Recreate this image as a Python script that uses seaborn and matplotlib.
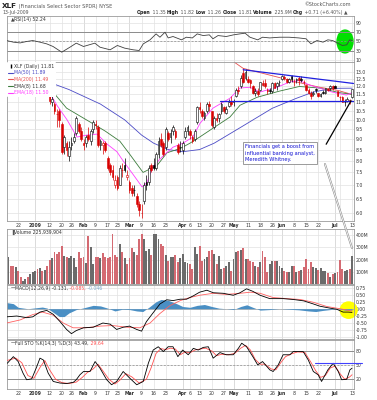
import numpy as np
import pandas as pd
import seaborn as sns
import matplotlib.pyplot as plt
from matplotlib.lines import Line2D
from matplotlib.patches import Ellipse, ConnectionPatch

# ----------------------
# Data: XLF daily, 16-Dec-2008 .. 13-Jul-2009
# ----------------------
holidays = ['2008-12-25', '2009-01-01', '2009-01-19', '2009-02-16',
            '2009-04-10', '2009-05-25', '2009-07-03']
days = pd.bdate_range('2008-12-16', '2009-07-13')
days = days[~days.isin(pd.to_datetime(holidays))]

open_px = [
    12.2, 12.8, 12.5, 12.2, 12.2, 12.0, 11.8, 11.8, 11.9, 11.7, 12.1,
    12.6, 13.0, 12.9, 12.8, 12.2, 12.4, 11.6, 11.0, 10.9, 10.3, 10.5, 9.8, 8.6, 8.8, 8.2, 8.7, 8.9, 9.3, 9.8, 9.4,
    8.8, 8.8, 9.2, 8.9, 9.5, 9.8, 9.6, 8.7, 8.7, 8.8, 8.1, 7.8, 7.6, 7.0, 7.3, 7.0, 7.6, 7.8, 7.3,
    7.1, 6.9, 6.8, 6.6, 6.3, 6.0, 6.4, 7.1, 7.1, 7.8, 7.8, 7.7, 8.3, 9.0, 8.8, 8.6, 9.3, 9.1, 9.4, 9.4, 8.7, 8.6,
    8.5, 9.1, 9.4, 9.4, 9.1, 9.0, 9.9, 10.7, 10.5, 10.1, 10.5, 10.9, 10.5, 9.6, 10.1, 10.1, 10.5, 10.7, 10.4, 10.8, 11.1,
    11.0, 11.4, 11.8, 12.0, 12.9, 12.6, 12.5, 12.4, 12.0, 11.6, 11.7, 11.8, 12.2, 12.2, 11.8, 11.8, 11.7, 12.2, 12.0, 12.3,
    12.5, 12.6, 12.5, 12.3, 12.7, 12.3, 12.4, 12.6, 12.5, 12.3, 12.1, 11.8, 11.6, 11.5, 11.8, 11.6, 11.4, 11.6, 11.6, 11.8, 11.9, 12.0,
    12.0, 11.7, 11.3, 11.3, 11.0, 11.1, 11.1, 11.35]
high_px = [
    13.0, 12.9, 12.7, 12.6, 12.3, 12.1, 11.9, 12.0, 11.9, 12.2, 12.6,
    13.2, 13.1, 13.3, 12.9, 12.5, 12.5, 11.7, 11.5, 11.0, 10.6, 10.6, 9.9, 9.2, 8.9, 8.9, 9.1, 9.3, 10.2, 9.9, 9.6,
    9.0, 9.2, 9.6, 9.5, 10.0, 10.0, 9.7, 9.0, 8.9, 8.9, 8.2, 7.9, 7.8, 7.4, 7.4, 7.8, 7.9, 8.1, 7.6,
    7.2, 7.0, 7.0, 6.7, 6.4, 6.3, 7.1, 7.4, 7.8, 7.9, 8.1, 8.4, 9.1, 9.3, 8.9, 9.6, 9.4, 9.5, 9.7, 9.5, 8.8, 8.9,
    8.9, 9.6, 9.7, 9.5, 9.2, 9.5, 10.8, 11.0, 10.6, 10.5, 11.0, 11.1, 10.5, 10.2, 10.4, 10.4, 11.0, 10.8, 10.8, 11.2, 11.4,
    11.2, 11.9, 12.0, 12.8, 13.3, 13.2, 12.7, 12.5, 12.1, 11.9, 11.9, 12.3, 12.4, 12.5, 11.9, 11.9, 12.3, 12.3, 12.3, 12.4,
    12.8, 12.8, 12.6, 12.6, 12.8, 12.5, 12.6, 12.7, 12.7, 12.4, 12.1, 11.9, 11.7, 11.7, 11.9, 11.6, 11.6, 11.8, 11.9, 11.9, 12.1, 12.1,
    12.1, 11.7, 11.4, 11.4, 11.2, 11.3, 11.2, 11.82]
low_px = [
    12.1, 12.3, 12.0, 12.0, 11.7, 11.6, 11.6, 11.6, 11.4, 11.6, 12.0,
    12.5, 12.6, 12.7, 12.2, 11.9, 11.6, 10.9, 10.8, 10.3, 9.6, 9.6, 8.3, 8.3, 8.2, 8.0, 8.5, 8.8, 9.2, 9.3, 8.9,
    8.5, 8.6, 8.9, 8.7, 9.3, 9.5, 8.6, 8.5, 8.3, 8.4, 7.6, 7.4, 7.2, 6.9, 6.8, 7.0, 7.3, 7.5, 7.2,
    6.7, 6.6, 6.6, 6.2, 5.9, 5.85, 6.3, 6.8, 7.0, 7.5, 7.6, 7.6, 8.1, 8.6, 8.2, 8.5, 8.9, 8.8, 9.2, 9.0, 8.3, 8.4,
    8.3, 9.0, 9.2, 9.0, 8.8, 8.9, 9.8, 10.4, 10.1, 10.0, 10.4, 10.5, 9.6, 9.5, 9.9, 9.9, 10.3, 10.4, 10.3, 10.7, 10.8,
    10.8, 11.3, 11.5, 11.9, 12.2, 12.4, 12.2, 11.9, 11.5, 11.4, 11.4, 11.7, 12.0, 11.9, 11.5, 11.6, 11.6, 11.9, 11.8, 12.0,
    12.4, 12.4, 12.2, 12.2, 12.3, 12.0, 12.2, 12.1, 12.3, 12.1, 11.7, 11.5, 11.2, 11.4, 11.6, 11.3, 11.3, 11.5, 11.5, 11.7, 11.8, 11.8,
    11.9, 11.4, 11.1, 11.0, 10.8, 11.0, 10.9, 11.26]
close_px = [
    12.9, 12.5, 12.1, 12.3, 11.9, 11.7, 11.8, 11.9, 11.6, 12.1, 12.5,
    13.1, 12.8, 13.0, 12.3, 12.4, 11.7, 11.1, 11.2, 10.5, 10.3, 10.0, 8.4, 9.1, 8.5, 8.6, 8.8, 9.1, 10.1, 9.4, 9.0,
    8.7, 9.1, 9.0, 9.4, 9.9, 9.7, 8.7, 8.9, 8.8, 8.5, 7.7, 7.5, 7.3, 7.2, 6.9, 7.7, 7.6, 7.6, 7.4,
    6.8, 6.7, 6.8, 6.3, 6.1, 6.0, 7.0, 7.0, 7.7, 7.6, 7.7, 8.3, 8.9, 8.7, 8.3, 9.5, 9.0, 9.3, 9.6, 9.1, 8.4, 8.6,
    8.8, 9.4, 9.6, 9.2, 8.9, 9.4, 10.7, 10.6, 10.2, 10.4, 10.9, 10.8, 9.7, 10.1, 10.0, 10.3, 10.9, 10.5, 10.6, 11.0, 10.9,
    11.1, 11.8, 11.7, 12.6, 12.3, 13.0, 12.3, 12.2, 11.6, 11.7, 11.5, 12.3, 12.1, 12.0, 11.7, 11.7, 12.2, 11.9, 12.2, 12.3,
    12.7, 12.6, 12.3, 12.5, 12.5, 12.3, 12.5, 12.4, 12.4, 12.3, 11.8, 11.6, 11.4, 11.6, 11.8, 11.4, 11.5, 11.6, 11.9, 11.8, 12.0, 11.9,
    11.9, 11.4, 11.3, 11.0, 11.0, 11.2, 11.1, 11.81]
volume_m = [
    225, 150, 150, 138, 110, 56, 28, 45, 56, 86,
    97, 110, 127, 135, 110, 115, 150, 200, 210, 260,
    245, 260, 315, 233, 225, 210, 233, 210, 138, 260,
    210, 220, 175, 397, 300, 165, 220, 225, 210, 255,
    220, 215, 220, 413, 240, 220, 330, 260, 210, 165,
    210, 295, 260, 240, 373, 413, 373, 270, 285, 240,
    413, 413, 373, 330, 315, 240, 190, 220, 225, 240,
    180, 210,
    247, 179, 170, 165, 124, 307, 247, 315, 186, 207,
    218, 268, 282, 247, 165, 233, 124, 132, 151, 179,
    110, 206, 260, 268, 282, 296, 206, 206, 192, 179,
    151, 137, 179, 268, 219, 96, 165, 186, 186, 192,
    151, 132, 110, 96, 96, 151, 151, 96, 110, 115,
    137, 206, 124, 179, 137, 132, 115, 132, 110, 110,
    88, 60, 82, 88, 96, 200, 124, 110, 115, 120, 226]

# overlays at (day index, value)
ma50_day = [-0.8, 7, 14, 25, 38, 48, 55, 60, 66, 72, 79, 85, 96, 109, 119, 126, 134, 142]
ma50_val = [13.5, 12.95, 12.45, 11.8, 10.9, 10.0, 9.2, 8.8, 8.5, 8.4, 8.5, 8.8, 9.6, 10.65, 11.25, 11.64, 11.88, 11.89]
ma200_day = [-0.8, 40, 70, 88, 93, 97, 105, 112, 119, 128, 136, 142]
ma200_val = [19.5, 17.0, 15.0, 14.1, 13.75, 13.25, 12.9, 12.6, 12.3, 11.97, 11.75, 11.49]
ema_slow_day = [-0.8, 8, 17, 24, 34, 40, 46, 50, 55.6, 61.4, 65.5, 71, 75, 79, 84.5, 91.5, 95.7, 102.7, 112, 120.2, 128.5, 136.8, 142]
ema_slow_val = [12.5, 12.3, 11.9, 10.66, 9.86, 9.4, 8.9, 8.3, 7.5, 7.79, 8.35, 8.55, 8.8, 9.1, 9.55, 10.15, 10.83, 11.31, 11.7, 12.0, 11.9, 11.6, 11.5]
ema_fast_day = [-0.8, 8, 15.9, 20, 24.2, 28.3, 32.4, 36.6, 40.7, 44.8, 47.3, 51.4, 55.2, 57.2, 59.7, 63.8, 68, 72.1, 76.2, 79.1,
                84.5, 91.5, 95.7, 99.8, 103.9, 110.9, 116.3, 120.2, 124.4, 128.5, 133.8, 139.6, 142]
ema_fast_val = [12.4, 12.1, 11.9, 10.83, 10.0, 9.1, 9.2, 9.25, 8.76, 8.4, 8.0, 7.43, 6.93, 7.09, 7.74, 8.2, 8.61, 8.8, 9.1, 9.8,
                10.66, 11.25, 11.9, 11.95, 11.64, 11.95, 12.3, 12.4, 12.1, 11.9, 11.64, 11.45, 11.6]

rsi_day = [-0.8, 2, 4.8, 7.5, 10, 13, 15.8, 18.4, 22, 25.4, 28, 31, 35.7, 37.8, 42, 45, 48, 51.5, 54, 55.7,
           58.5, 61, 62.6, 64.7, 66, 68, 71.5, 73.5, 76, 78, 80.5, 83, 84.5, 86.6, 90, 93, 95.6, 97.8, 99.8, 103,
           105, 108, 112, 116, 120, 123, 125, 127.5, 130, 132, 134, 136, 138, 139.8, 141, 142]
rsi_val = [52, 48.6, 47, 50, 52, 48.6, 45, 39.5, 27.5, 38, 46.5, 39.5, 46.5, 38, 32.5, 41.6, 36, 32.5, 31, 45,
           53.5, 66, 59, 69.6, 57.5, 60.5, 53.5, 59, 57.5, 66, 62.5, 64, 55.7, 62.5, 60.5, 64, 66, 67.5, 59, 53.5,
           59, 57.5, 59, 59, 57.5, 55.7, 45, 52, 48.6, 53.5, 52, 46.5, 41.6, 43, 53.5, 52.24]

macd_day = [-0.8, 3.4, 7.5, 10, 13, 15.8, 18.5, 21.3, 24, 26, 28, 31, 35, 39, 42, 44.7, 47.4, 50, 53, 55,
            57, 60, 62.6, 65.4, 68, 71, 73.6, 76.4, 79, 82, 84.6, 88.8, 92.9, 95.7, 98.4, 101, 104, 108, 113.5, 117.7,
            122, 126, 128.7, 132.9, 135.7, 138.3, 140.4, 142]
macd_val = [-0.29, -0.26, -0.32, -0.29, -0.12, -0.06, -0.20, -0.46, -0.74, -0.89, -0.78, -0.68, -0.66, -0.51, -0.55, -0.74, -0.66, -0.62, -0.74, -0.80,
            -0.46, -0.12, 0.17, 0.32, 0.29, 0.34, 0.34, 0.46, 0.59, 0.66, 0.57, 0.55, 0.48, 0.57, 0.71, 0.62, 0.48, 0.36, 0.36, 0.33,
            0.28, 0.17, 0.09, 0.02, -0.02, -0.12, -0.12, -0.131]
signal_day = [-0.8, 4.8, 10, 14, 18.5, 22.6, 26.7, 32, 37.8, 43, 49, 54.3, 58.5, 62.6, 66.7, 71, 75, 79, 84.6, 90,
              95.7, 100, 104, 109.3, 115, 120.5, 126, 131.5, 137, 141, 142]
signal_val = [-0.51, -0.40, -0.21, -0.12, -0.23, -0.51, -0.68, -0.68, -0.62, -0.60, -0.66, -0.68, -0.51, -0.17, 0.11, 0.29, 0.40, 0.48, 0.55, 0.51,
              0.55, 0.59, 0.55, 0.40, 0.36, 0.33, 0.23, 0.08, 0.0, -0.07, -0.085]
hist_day = [-0.8, 2, 4, 8, 11, 14, 16, 18, 21, 23, 25, 28, 31, 35, 38, 41, 44, 47, 50, 53, 55.5, 58, 61, 63, 66, 69, 72, 75,
            78, 81, 84, 87, 90, 93, 96, 98.5, 101, 104, 108, 112, 116, 120, 124, 127, 130, 133, 136, 139, 142]
hist_val = [0.22, 0.18, 0.05, 0.0, 0.03, 0.06, 0.02, -0.1, -0.28, -0.28, -0.15, -0.03, 0.03, 0.12, 0.1, 0.02, -0.08, -0.02, -0.03, -0.08, -0.1, 0.05, 0.25, 0.33, 0.3, 0.2, 0.08, 0.05,
            0.12, 0.15, 0.08, 0.02, 0.0, -0.03, 0.08, 0.14, 0.05, -0.05, -0.03, 0.0, -0.02, -0.04, -0.08, -0.1, -0.06, -0.03, 0.0, -0.05, -0.046]

stok_day = [-0.5, 2, 4, 6, 7.5, 9.6, 11.7, 13, 14.4, 16.4, 18.5, 21.3, 24, 26.8, 28, 29.5, 31, 33.7, 35.8, 37.8,
            40.6, 42.6, 44.7, 47.4, 50.2, 53, 55.7, 57.8, 59.8, 61.9, 64, 66, 68, 70, 72, 74.3, 76.4, 78.4, 80.5, 82.6,
            84.6, 87.4, 90, 92.9, 95, 96.4, 98.4, 101, 103, 105, 108, 109.4, 111.5, 113.5, 116.3, 117.7, 121.8, 123.9, 126, 128,
            129.4, 132, 134.2, 136.3, 137.7, 139.8, 141.1, 142]
stok_val = [54, 68, 57.6, 33, 19, 21, 47, 64.8, 61, 33, 15.4, 12, 11, 13.6, 19, 29.5, 36.5, 36.5, 57.6, 43.6,
            19, 8.4, 15.4, 36.5, 22, 8.4, 15.4, 54, 82, 89, 78.8, 89, 89, 68, 82, 72, 85.6, 82, 87.6, 89,
            64.8, 76.6, 72, 72, 85.6, 96.5, 89, 68, 50.6, 57.6, 40, 36.5, 50.6, 72, 72, 78.8, 78.8, 61, 36.5, 29.5,
            15.4, 40, 54, 36.5, 19, 20, 40, 43.49]
stod_day = [-0.5, 3, 5.5, 8, 10.5, 13, 15, 17, 19.5, 22, 25, 28, 30.5, 32.5, 35, 37, 39, 41.5, 44, 46,
            48.5, 51, 54, 57, 59, 61, 63, 65, 67, 69, 71, 73, 75, 77, 79, 81.5, 84, 86, 88, 91,
            93.5, 96, 98, 100, 102, 104, 106, 108.5, 110.5, 112.5, 114.5, 117, 119.5, 122.5, 125, 127, 129, 131, 133, 135,
            137, 139, 141, 142]
stod_val = [60, 65, 55, 28, 22, 45, 60, 40, 20, 13, 11, 14, 24, 34, 42, 52, 38, 20, 10, 18,
            32, 25, 12, 20, 45, 75, 85, 83, 86, 84, 72, 78, 76, 82, 84, 86, 80, 70, 73, 72,
            75, 86, 92, 82, 62, 52, 52, 42, 40, 55, 68, 74, 78, 77, 56, 38, 24, 28, 44, 48,
            32, 20, 25, 29.64]

# hand-drawn annotations on the original chart
trend_day, trend_px = [97, 142.6], [13.15, 12.2]
support_day, support_px = [87.4, 142.6], [11.1, 11.1]
sto_mark_day, sto_mark_val = [126.7, 146.0], [55.2, 55.2]

tick_dates = ['2008-12-22', '2009-01-02', '2009-01-12', '2009-01-20', '2009-01-26', '2009-02-02', '2009-02-09',
              '2009-02-17', '2009-02-23', '2009-03-02', '2009-03-09', '2009-03-16', '2009-03-23', '2009-04-01',
              '2009-04-06', '2009-04-13', '2009-04-20', '2009-04-27', '2009-05-01', '2009-05-11', '2009-05-18',
              '2009-05-26', '2009-06-01', '2009-06-08', '2009-06-15', '2009-06-22', '2009-07-01', '2009-07-06', '2009-07-13']
tick_labels = ['22', '2009', '12', '20', '26', 'Feb', '9', '17', '23', 'Mar', '9', '16', '23', 'Apr',
               '6', '13', '20', '27', 'May', '11', '18', '26', 'Jun', '8', '15', '22', 'Jul', '', '13']
month_labels = ['2009', 'Feb', 'Mar', 'Apr', 'May', 'Jun', 'Jul']

# ----------------------
# Derived frame
# ----------------------
df = pd.DataFrame({'date': days, 'open': open_px, 'high': high_px, 'low': low_px,
                   'close': close_px, 'volume': np.array(volume_m) * 1e6})
df['day'] = np.arange(len(df))
prev = df['close'].shift(1).fillna(df['open'])
df['up'] = np.where(df['close'] >= prev, 'up', 'down')
tick_idx = [int(np.where(days == pd.Timestamp(d))[0][0]) for d in tick_dates]

# ----------------------
# Figure / panels
# ----------------------
sns.set_style('white')
plt.rcParams['font.family'] = ['DejaVu Sans']
W, H = 377, 400
fig = plt.figure(figsize=(W / 100, H / 100), dpi=100)
fig.patch.set_facecolor('white')


def panel(top, bottom):
    return fig.add_axes([6.5 / W, 1 - bottom / H, 347 / W, (bottom - top) / H])


ax_rsi = panel(16, 62)
ax_px = panel(62, 221)
ax_vol = panel(229, 284)
ax_macd = panel(285, 339)
ax_sto = panel(340, 389)

TXT = '#333333'
FS = 3.3


def style(ax, ylim, yticks, ylabels, xlabels=False):
    ax.set_xlim(-0.83, 142.6)
    ax.set_ylim(*ylim)
    ax.set_yticks(yticks)
    ax.set_yticklabels(ylabels)
    ax.yaxis.set_minor_locator(plt.NullLocator())
    ax.yaxis.tick_right()
    ax.set_xticks(tick_idx)
    ax.set_xticklabels(tick_labels if xlabels else [])
    ax.tick_params(axis='both', length=0, labelsize=FS, colors=TXT, pad=1.5)
    ax.grid(True, color='#e2e2e2', lw=0.5)
    ax.set_axisbelow(True)
    for i, lab in zip(tick_idx, tick_labels):
        if lab in month_labels:
            ax.axvline(i, color='#c4c4c4', lw=0.6, zorder=0)
    if xlabels:
        for t in ax.get_xticklabels():
            if t.get_text() in month_labels:
                t.set_fontweight('bold')
    ax.set_xlabel('')
    ax.set_ylabel('')
    for s in ax.spines.values():
        s.set_color('#9a9a9a')
        s.set_linewidth(0.6)


def label_row(ax, pieces, y=0.985):
    t = ax.text(0.012, y, pieces[0][0], color=pieces[0][1], transform=ax.transAxes,
                fontsize=FS, va='top', ha='left', zorder=10)
    for s, c in pieces[1:]:
        t = ax.annotate(s, xy=(1, 0), xycoords=t, color=c, fontsize=FS, va='bottom', ha='left', zorder=10)
    return t


# ----------------------
# RSI
# ----------------------
ax_rsi.add_patch(Ellipse((139.1, 50), 6.6, 48, color='#00e000', zorder=1, clip_on=False))
for lvl in (70, 30):
    ax_rsi.axhline(lvl, color='#8c8c8c', lw=0.7, zorder=1)
ax_rsi.axhline(50, color='#8c8c8c', lw=0.5, ls=(0, (3, 2)), zorder=1)
sns.lineplot(x=rsi_day, y=rsi_val, ax=ax_rsi, color='#404040', lw=0.6, zorder=3)
style(ax_rsi, (6.8, 103.7), [10, 30, 50, 70, 90], ['10', '30', '50', '70', '90'])
label_row(ax_rsi, [('\u25b2', '#444444'), ('RSI(14) 52.24', TXT)])

# ----------------------
# Price (candles on log scale)
# ----------------------
ax_px.set_yscale('log')
prev_close = df['close'].shift(1).fillna(df['open'])
for r, pc in zip(df.itertuples(), prev_close):
    col = '#000000' if r.close >= pc else '#d80000'
    ax_px.vlines(r.day, r.low, r.high, color=col, lw=0.5, zorder=3)
    lo, hi = min(r.open, r.close), max(r.open, r.close)
    if hi - lo < 0.02:
        hi = lo + 0.02
    face = 'white' if r.close > r.open else col
    ax_px.bar(r.day, hi - lo, bottom=lo, width=0.7, color=face, edgecolor=col, lw=0.4, zorder=4)

sns.lineplot(x=ma50_day, y=ma50_val, ax=ax_px, color='#4b4bc6', lw=0.6, zorder=2)
sns.lineplot(x=ma200_day, y=ma200_val, ax=ax_px, color='#e85050', lw=0.6, zorder=2)
sns.lineplot(x=ema_slow_day, y=ema_slow_val, ax=ax_px, color='#3c7c3c', lw=0.6, zorder=2)
sns.lineplot(x=ema_fast_day, y=ema_fast_val, ax=ax_px, color='#ff3cff', lw=0.6, zorder=2)
ax_px.plot(trend_day, trend_px, color='#2020e0', lw=0.9, zorder=5)
ax_px.plot(support_day, support_px, color='#2020e0', lw=0.9, zorder=5)

pticks = [6.0, 6.5, 7.0, 7.5, 8.0, 8.5, 9.0, 9.5, 10.0, 10.5, 11.0, 11.5, 12.0, 12.5, 13.0]
style(ax_px, (5.75, 13.72), pticks, [f'{v:.1f}' for v in pticks], xlabels=True)
ax_px.yaxis.set_minor_formatter(plt.NullFormatter())

handles = [Line2D([], [], color='black', marker='|', ms=3, lw=0),
           Line2D([], [], color='#4b4bc6', lw=0.8),
           Line2D([], [], color='#e85050', lw=0.8),
           Line2D([], [], color='#3c7c3c', lw=0.8),
           Line2D([], [], color='#ff3cff', lw=0.8)]
leg = ax_px.legend(handles, ['XLF (Daily) 11.81', 'MA(50) 11.89', 'MA(200) 11.49', 'EMA(8) 11.68', 'EMA(18) 11.50'],
                   loc='upper left', fontsize=FS, frameon=True, framealpha=1, edgecolor='none', facecolor='white',
                   borderpad=0.3, handlelength=1.0, handletextpad=0.3, labelspacing=0.35, borderaxespad=0.1,
                   labelcolor=[TXT, '#4b4bc6', '#e85050', TXT, '#ff3cff'])
leg.set_zorder(20)

note = ax_px.text(97.8, 8.34, 'Financials get a boost from\ninfluential banking analyst,\nMeredith Whitney.',
                  color='#1414d2', fontsize=3.7, va='center', ha='left', linespacing=1.35, zorder=8,
                  bbox=dict(boxstyle='square,pad=0.45', fc='white', ec='#8a8a8a', lw=0.6))
ax_px.plot([131.3, 141.6], [8.75, 11.1], color='black', lw=0.9, zorder=7)

# ----------------------
# Volume
# ----------------------
sns.barplot(data=df, x='day', y='volume', hue='up', palette={'up': '#6b6b6b', 'down': '#d46a72'},
            native_scale=True, dodge=False, width=0.78, errorbar=None, legend=False,
            saturation=1, linewidth=0, ax=ax_vol)
style(ax_vol, (0, 451e6), [100e6, 200e6, 300e6, 400e6], ['100M', '200M', '300M', '400M'])
label_row(ax_vol, [('\u2590', '#555555'), ('Volume 225,939,904', TXT)])

# callout wedge from the note down to the volume bar
for lw, col in ((1.4, '#8a8a8a'), (0.6, 'white')):
    con = ConnectionPatch(xyA=(130.8, 7.85), coordsA=ax_px.transData,
                          xyB=(142.0, 295e6), coordsB=ax_vol.transData, color=col, lw=lw, zorder=9)
    fig.add_artist(con)

# ----------------------
# MACD
# ----------------------
ax_macd.add_patch(Ellipse((140.6, -0.05), 7.0, 0.58, color='#ffff00', zorder=1, clip_on=False))
ax_macd.axhline(0, color='#a8a8a8', lw=0.5, zorder=1)
ax_macd.fill_between(hist_day, hist_val, 0, color='#4a8fc4', lw=0, zorder=2)
sns.lineplot(x=signal_day, y=signal_val, ax=ax_macd, color='#ff6060', lw=0.6, zorder=3)
sns.lineplot(x=macd_day, y=macd_val, ax=ax_macd, color='black', lw=0.6, zorder=4)
mt = [-1.0, -0.75, -0.5, -0.25, 0.0, 0.25, 0.5, 0.75]
style(ax_macd, (-1.08, 0.846), mt, [f'{v:.2f}' for v in mt])
label_row(ax_macd, [('\u2014', 'black'), ('MACD(12,26,9) -0.131,', TXT), (' -0.085,', '#ff5050'), (' -0.046', '#7aa6c8')])

# ----------------------
# Full stochastics
# ----------------------
for lvl in (80, 20):
    ax_sto.axhline(lvl, color='#8c8c8c', lw=0.7, zorder=1)
ax_sto.axhline(50, color='#8c8c8c', lw=0.5, ls=(0, (3, 2)), zorder=1)
sns.lineplot(x=stod_day, y=stod_val, ax=ax_sto, color='#ff5050', lw=0.6, zorder=3)
sns.lineplot(x=stok_day, y=stok_val, ax=ax_sto, color='black', lw=0.6, zorder=4)
ax_sto.plot(sto_mark_day, sto_mark_val, color='#4040ff', lw=0.8, zorder=5, clip_on=False)
style(ax_sto, (-0.6, 103.3), [20, 50, 80], ['20', '50', '80'], xlabels=True)
label_row(ax_sto, [('\u2014', 'black'), ('Full STO %K(14,3) %D(3) 43.49,', TXT), (' 29.64', '#ff5050')])

# ----------------------
# Header
# ----------------------
t = fig.text(2 / W, 1 - 6.5 / H, 'XLF', fontsize=5.2, fontweight='bold', color='#222222', va='center')
fig.text(2 / W, 1 - 12.5 / H, '13-Jul-2009', fontsize=FS, color='#555555', va='center')
t2 = plt.annotate(' (Financials Select Sector SPDR) NYSE', xy=(1, 0.15), xycoords=t, fontsize=3.6,
                  color='#555555', va='bottom', annotation_clip=False)
fig.text(351 / W, 1 - 5 / H, '\u00a9StockCharts.com', fontsize=3.5, color='#555555', va='center', ha='right')

pieces = [('Open', True), (' 11.35 ', False), ('High', True), (' 11.82 ', False), ('Low', True), (' 11.26 ', False),
          ('Close', True), (' 11.81 ', False), ('Volume', True), (' 225.9M ', False), ('Chg', True),
          (' +0.71 (+6.40%) \u25b2', False)]
h = fig.text(137 / W, 1 - 12.5 / H, pieces[0][0], fontsize=FS, fontweight='bold', color='#222222', va='center')
for s, b in pieces[1:]:
    h = plt.annotate(s, xy=(1, 0), xycoords=h, fontsize=FS, fontweight='bold' if b else 'normal',
                     color='#222222' if b else '#555555', va='bottom', annotation_clip=False)

fig.savefig('out.png', dpi=100, facecolor='white')
